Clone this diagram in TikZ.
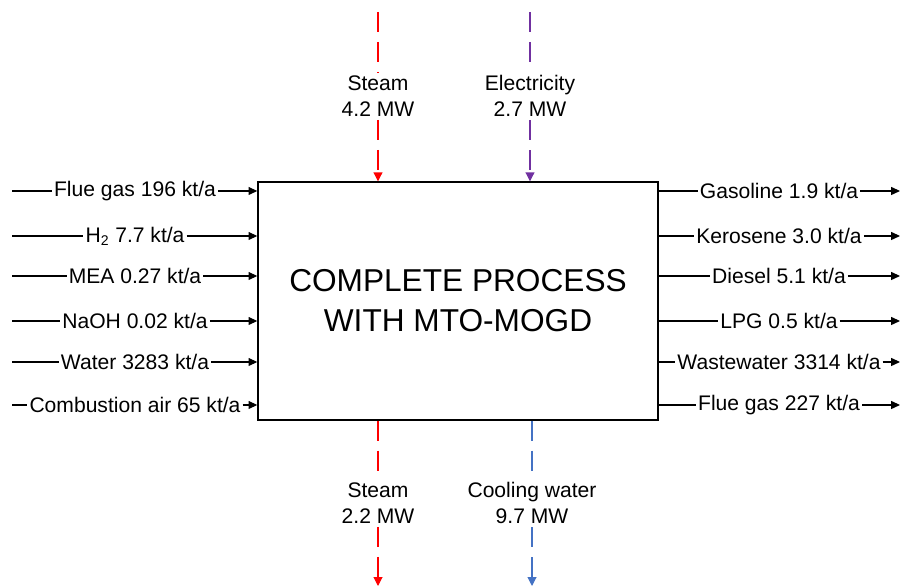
\documentclass[tikz,border=0pt]{standalone}
\usepackage{fontspec}
\setmainfont{Liberation Sans}
\usepackage{xcolor}
\definecolor{flowred}{RGB}{255,0,0}
\definecolor{flowpurple}{RGB}{112,48,160}
\definecolor{flowblue}{RGB}{68,114,196}
\usetikzlibrary{arrows.meta}

\tikzset{
  flowlabel/.style={fill=white, inner sep=1pt, font=\fontsize{12}{14}\selectfont},
  utilitylabel/.style={fill=white, inner sep=2pt, align=center, font=\fontsize{12}{14.5}\selectfont},
  flowline/.style={black, line width=0.6pt},
  flowarrow/.style={flowline, -{Triangle[length=5pt, width=4.5pt]}},
  utilityline/.style={line width=0.6pt, dash pattern=on 0.4cm off 0.2cm},
  utilityarrow/.style={utilityline, -{Triangle[length=5pt, width=5pt]}},
}

\begin{document}
\begin{tikzpicture}
\useasboundingbox (0,0) rectangle (18.1,11.76);

% --- Process block ---
\node[draw, line width=0.8pt, minimum width=8cm, minimum height=4.76cm, inner sep=0pt,
      align=center, font=\fontsize{18}{22.7}\selectfont] (process) at (9.16,5.74)
      {COMPLETE PROCESS\\WITH MTO-MOGD};

% --- Inputs (left) ---
\coordinate (fluein) at (0.24,7.94);
\node[flowlabel] (fluein-lbl) at (2.7,7.94) {Flue gas 196 kt/a};
\draw[flowline] (fluein) -- (fluein-lbl);
\draw[flowarrow] (fluein-lbl) -- (fluein-lbl -| process.west);

\coordinate (hydro) at (0.24,7.04);
\node[flowlabel] (hydro-lbl) at (2.7,7.04) {H\textsubscript{2} 7.7 kt/a};
\draw[flowline] (hydro) -- (hydro-lbl);
\draw[flowarrow] (hydro-lbl) -- (hydro-lbl -| process.west);

\coordinate (mea) at (0.24,6.24);
\node[flowlabel] (mea-lbl) at (2.7,6.24) {MEA 0.27 kt/a};
\draw[flowline] (mea) -- (mea-lbl);
\draw[flowarrow] (mea-lbl) -- (mea-lbl -| process.west);

\coordinate (naoh) at (0.24,5.34);
\node[flowlabel] (naoh-lbl) at (2.7,5.34) {NaOH 0.02 kt/a};
\draw[flowline] (naoh) -- (naoh-lbl);
\draw[flowarrow] (naoh-lbl) -- (naoh-lbl -| process.west);

\coordinate (water) at (0.24,4.52);
\node[flowlabel] (water-lbl) at (2.7,4.52) {Water 3283 kt/a};
\draw[flowline] (water) -- (water-lbl);
\draw[flowarrow] (water-lbl) -- (water-lbl -| process.west);

\coordinate (air) at (0.24,3.66);
\node[flowlabel] (air-lbl) at (2.7,3.66) {Combustion air 65 kt/a};
\draw[flowline] (air) -- (air-lbl);
\draw[flowarrow] (air-lbl) -- (air-lbl -| process.west);

% --- Products (right) ---
\coordinate (gasoline) at (18.0,7.94);
\node[flowlabel] (gasoline-lbl) at (15.58,7.94) {Gasoline 1.9 kt/a};
\draw[flowline] (gasoline-lbl -| process.east) -- (gasoline-lbl);
\draw[flowarrow] (gasoline-lbl) -- (gasoline);

\coordinate (kerosene) at (18.0,7.04);
\node[flowlabel] (kerosene-lbl) at (15.58,7.04) {Kerosene 3.0 kt/a};
\draw[flowline] (kerosene-lbl -| process.east) -- (kerosene-lbl);
\draw[flowarrow] (kerosene-lbl) -- (kerosene);

\coordinate (diesel) at (18.0,6.24);
\node[flowlabel] (diesel-lbl) at (15.58,6.24) {Diesel 5.1 kt/a};
\draw[flowline] (diesel-lbl -| process.east) -- (diesel-lbl);
\draw[flowarrow] (diesel-lbl) -- (diesel);

\coordinate (lpg) at (18.0,5.34);
\node[flowlabel] (lpg-lbl) at (15.58,5.34) {LPG 0.5 kt/a};
\draw[flowline] (lpg-lbl -| process.east) -- (lpg-lbl);
\draw[flowarrow] (lpg-lbl) -- (lpg);

\coordinate (waste) at (18.0,4.52);
\node[flowlabel] (waste-lbl) at (15.58,4.52) {Wastewater 3314 kt/a};
\draw[flowline] (waste-lbl -| process.east) -- (waste-lbl);
\draw[flowarrow] (waste-lbl) -- (waste);

\coordinate (flueout) at (18.0,3.66);
\node[flowlabel] (flueout-lbl) at (15.58,3.66) {Flue gas 227 kt/a};
\draw[flowline] (flueout-lbl -| process.east) -- (flueout-lbl);
\draw[flowarrow] (flueout-lbl) -- (flueout);

% --- Utilities in (top) ---
\coordinate (steamin) at (7.56,11.52);
\node[utilitylabel] (steamin-lbl) at (7.56,9.84) {Steam\\4.2 MW};
\draw[utilityline, flowred] (steamin) -- (steamin-lbl);
\draw[utilityarrow, flowred] (steamin-lbl) -- (steamin-lbl |- process.north);

\coordinate (power) at (10.6,11.52);
\node[utilitylabel] (power-lbl) at (10.6,9.84) {Electricity\\2.7 MW};
\draw[utilityline, flowpurple] (power) -- (power-lbl);
\draw[utilityarrow, flowpurple] (power-lbl) -- (power-lbl |- process.north);

% --- Utilities out (bottom) ---
\coordinate (steamout) at (7.56,0.04);
\node[utilitylabel] (steamout-lbl) at (7.56,1.7) {Steam\\2.2 MW};
\draw[utilityline, flowred] (steamout-lbl |- process.south) -- (steamout-lbl);
\draw[utilityarrow, flowred] (steamout-lbl) -- (steamout);

\coordinate (cooling) at (10.64,0.04);
\node[utilitylabel] (cooling-lbl) at (10.64,1.7) {Cooling water\\9.7 MW};
\draw[utilityline, flowblue] (cooling-lbl |- process.south) -- (cooling-lbl);
\draw[utilityarrow, flowblue] (cooling-lbl) -- (cooling);

\end{tikzpicture}
\end{document}
